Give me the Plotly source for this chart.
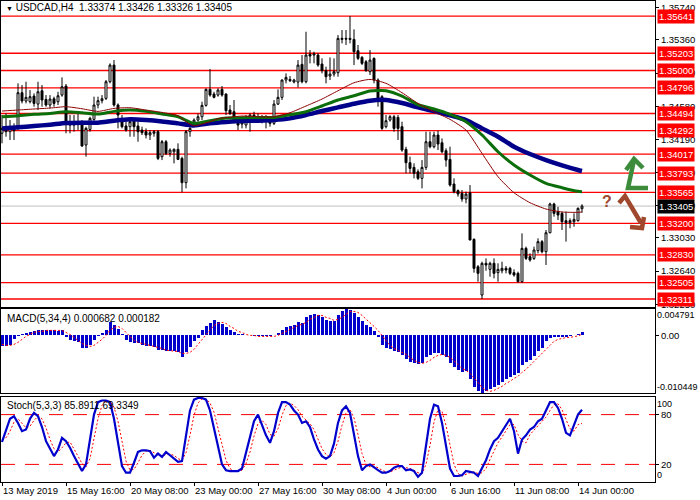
import plotly.graph_objects as go

# ---------------- data ----------------
bars = list(range(146))
tick_pos = [0, 16, 32, 48, 64, 80, 96, 112, 128, 144]
tick_labels = ["13 May 2019", "15 May 16:00", "20 May 08:00", "23 May 00:00", "27 May 16:00",
               "30 May 08:00", "4 Jun 00:00", "6 Jun 16:00", "11 Jun 08:00", "14 Jun 00:00"]

opens = [1.34261,1.34319,1.34280,1.34331,1.34319,1.34739,1.34641,1.34633,1.34699,1.34605,
         1.34762,1.34660,1.34594,1.34668,1.34633,1.34711,1.34817,1.34398,1.34358,1.34398,
         1.34378,1.34123,1.34307,1.34425,1.34594,1.34645,1.34672,1.34868,1.35064,1.34594,
         1.34417,1.34347,1.34339,1.34409,1.34347,1.34299,1.34280,1.34241,1.34261,1.34280,
         1.33986,1.34162,1.34025,1.34044,1.34072,1.33966,1.33680,1.34280,1.34370,1.34417,
         1.34456,1.34590,1.34778,1.34723,1.34711,1.34778,1.34723,1.34535,1.34515,1.34437,
         1.34370,1.34358,1.34417,1.34476,1.34448,1.34425,1.34437,1.34417,1.34378,1.34605,
         1.34684,1.34888,1.34895,1.34864,1.34864,1.35072,1.34868,1.35190,1.35182,1.35182,
         1.35076,1.34998,1.34935,1.34958,1.34974,1.35366,1.35378,1.35378,1.35366,1.35233,
         1.35154,1.35103,1.34986,1.35143,1.34888,1.34692,1.34339,1.34417,1.34456,1.34448,
         1.34339,1.34072,1.33915,1.33860,1.33809,1.33731,1.33860,1.34162,1.34103,1.34241,
         1.34150,1.34056,1.33954,1.33664,1.33586,1.33554,1.33488,1.33562,1.33013,1.32691,
         1.32358,1.32731,1.32660,1.32731,1.32621,1.32644,1.32672,1.32672,1.32621,1.32613,
         1.32515,1.32907,1.32809,1.32789,1.32880,1.32986,1.32868,1.33091,1.33429,1.33339,
         1.33319,1.33233,1.33209,1.33221,1.33233,1.33374]
highs = [1.34476,1.34495,1.34417,1.34378,1.34849,1.34829,1.34868,1.34770,1.34731,1.34868,
         1.34829,1.34711,1.34711,1.34692,1.34750,1.34919,1.34841,1.34476,1.34476,1.34495,
         1.34417,1.34339,1.34456,1.34692,1.34692,1.34711,1.34888,1.35084,1.35123,1.34613,
         1.34476,1.34417,1.34437,1.34437,1.34398,1.34339,1.34319,1.34299,1.34299,1.34299,
         1.34182,1.34182,1.34084,1.34084,1.34143,1.33986,1.34299,1.34339,1.34437,1.34495,
         1.34633,1.34790,1.35017,1.34750,1.34790,1.34817,1.34731,1.34594,1.34653,1.34456,
         1.34417,1.34476,1.34495,1.34515,1.34495,1.34476,1.34476,1.34437,1.34653,1.34778,
         1.34895,1.34966,1.34935,1.34903,1.35123,1.35182,1.35456,1.35241,1.35221,1.35202,
         1.35143,1.35045,1.35154,1.35143,1.35417,1.35476,1.35476,1.35641,1.35484,1.35300,
         1.35170,1.35123,1.35241,1.35154,1.34907,1.34711,1.34476,1.34476,1.34476,1.34476,
         1.34398,1.34103,1.33986,1.33907,1.33837,1.33946,1.34280,1.34280,1.34280,1.34292,
         1.34201,1.34084,1.34103,1.33731,1.33601,1.33593,1.33574,1.33652,1.33025,1.32711,
         1.32750,1.32789,1.32750,1.32789,1.32731,1.32750,1.32699,1.32691,1.32660,1.32633,
         1.33084,1.32927,1.32848,1.32927,1.33025,1.33005,1.33123,1.33444,1.33444,1.33397,
         1.33339,1.33339,1.33260,1.33319,1.33389,1.33426]
lows = [1.34143,1.34221,1.34182,1.34182,1.34299,1.34613,1.34613,1.34613,1.34574,1.34535,
        1.34574,1.34574,1.34554,1.34574,1.34594,1.34692,1.34261,1.34261,1.34280,1.34299,
        1.34103,1.33986,1.34280,1.34409,1.34554,1.34613,1.34653,1.34849,1.34574,1.34319,
        1.34319,1.34280,1.34221,1.34221,1.34162,1.34241,1.34201,1.34182,1.34221,1.33946,
        1.33946,1.34005,1.33986,1.33907,1.33946,1.33566,1.33613,1.34221,1.34358,1.34398,
        1.34417,1.34574,1.34692,1.34672,1.34692,1.34692,1.34476,1.34476,1.34378,1.34299,
        1.34319,1.34319,1.34280,1.34398,1.34417,1.34378,1.34319,1.34339,1.34358,1.34594,
        1.34653,1.34849,1.34864,1.34849,1.34801,1.34849,1.34849,1.35084,1.35084,1.35045,
        1.34966,1.34849,1.34888,1.34927,1.34927,1.35319,1.35300,1.35319,1.35064,1.35123,
        1.35064,1.34986,1.34947,1.34849,1.34574,1.34299,1.34319,1.34398,1.34280,1.34182,
        1.34044,1.33790,1.33790,1.33731,1.33711,1.33613,1.33829,1.34084,1.34084,1.34064,
        1.34025,1.33868,1.33633,1.33554,1.33515,1.33456,1.33437,1.33005,1.32621,1.32515,
        1.32311,1.32644,1.32574,1.32554,1.32515,1.32613,1.32613,1.32593,1.32574,1.32505,
        1.32503,1.32770,1.32750,1.32770,1.32848,1.32848,1.32711,1.33084,1.33280,1.33241,
        1.33123,1.32986,1.33143,1.33162,1.33221,1.33326]
closes = [1.34319,1.34280,1.34331,1.34292,1.34739,1.34641,1.34684,1.34692,1.34613,1.34750,
          1.34653,1.34594,1.34664,1.34613,1.34703,1.34809,1.34398,1.34358,1.34398,1.34370,
          1.34111,1.34319,1.34437,1.34594,1.34645,1.34668,1.34868,1.35064,1.34594,1.34476,
          1.34339,1.34299,1.34398,1.34339,1.34280,1.34268,1.34241,1.34268,1.34280,1.33966,
          1.34162,1.34025,1.34064,1.34072,1.33954,1.33680,1.34280,1.34319,1.34417,1.34456,
          1.34590,1.34778,1.34711,1.34684,1.34770,1.34711,1.34527,1.34495,1.34417,1.34358,
          1.34386,1.34417,1.34476,1.34437,1.34437,1.34456,1.34417,1.34378,1.34605,1.34684,
          1.34888,1.34919,1.34880,1.34888,1.35064,1.34868,1.35182,1.35170,1.35194,1.35064,
          1.34998,1.34927,1.34958,1.34986,1.35378,1.35378,1.35370,1.35366,1.35221,1.35143,
          1.35084,1.34998,1.35123,1.34888,1.34672,1.34319,1.34409,1.34456,1.34319,1.34319,
          1.34064,1.33915,1.33848,1.33790,1.33731,1.33860,1.34162,1.34103,1.34241,1.34135,
          1.34044,1.33946,1.33652,1.33574,1.33546,1.33488,1.33546,1.33005,1.32672,1.32613,
          1.32731,1.32711,1.32731,1.32613,1.32660,1.32672,1.32652,1.32613,1.32593,1.32515,
          1.32907,1.32789,1.32770,1.32888,1.32986,1.32868,1.33091,1.33429,1.33319,1.33299,
          1.33221,1.33209,1.33233,1.33248,1.33378,1.33405]

ma_red_x = [0,4,8,12,16,20,24,28,32,36,40,44,46,48,50,52,54,56,60,64,68,72,76,80,84,88,92,96,
            100,104,108,112,116,120,124,128,132,136,140,144,145]
ma_red = [1.34523,1.34535,1.34547,1.34558,1.34574,1.34550,1.34519,1.34554,1.34562,1.34535,
          1.34507,1.34468,1.34398,1.34347,1.34370,1.34398,1.34433,1.34445,1.34464,1.34456,
          1.34456,1.34503,1.34582,1.34664,1.34762,1.34856,1.34895,1.34849,1.34739,1.34613,
          1.34515,1.34425,1.34299,1.34025,1.33750,1.33562,1.33444,1.33370,1.33335,1.33331,1.33335]
ma_x = [0,4,8,12,16,20,24,28,32,36,40,44,48,52,56,60,64,68,72,76,80,84,88,92,96,
        100,104,108,112,116,120,124,128,132,136,140,144,145]
ma_green = [1.34456,1.34468,1.34484,1.34495,1.34515,1.34503,1.34488,1.34519,1.34535,1.34519,
            1.34488,1.34456,1.34378,1.34409,1.34441,1.34445,1.34448,1.34448,1.34480,1.34515,
            1.34582,1.34653,1.34703,1.34758,1.34762,1.34699,1.34597,1.34547,1.34484,1.34398,
            1.34241,1.34044,1.33888,1.33770,1.33672,1.33621,1.33578,1.33574]
ma_blue = [1.34319,1.34331,1.34347,1.34362,1.34382,1.34386,1.34386,1.34409,1.34425,1.34417,
           1.34401,1.34378,1.34354,1.34378,1.34394,1.34405,1.34409,1.34417,1.34437,1.34476,
           1.34523,1.34566,1.34609,1.34645,1.34653,1.34617,1.34566,1.34523,1.34472,1.34417,
           1.34319,1.34221,1.34103,1.34017,1.33946,1.33884,1.33829,1.33817]

levels = [1.35641,1.35203,1.35000,1.34796,1.34494,1.34292,1.34017,1.33793,1.33565,
          1.33200,1.32830,1.32505,1.32311]
last_price = 1.33405
price_ticks = [1.35740,1.35360,1.34970,1.34580,1.34190,1.33800,1.33410,1.33030,1.32640,1.32250]

macd = [-0.00200,-0.00200,-0.00181,-0.00073,-0.00018,0.00018,0.00036,0.00054,0.00073,0.00091,
        0.00091,0.00091,0.00091,0.00091,0.00073,0.00091,-0.00036,-0.00091,-0.00109,-0.00127,
        -0.00236,-0.00236,-0.00181,-0.00091,-0.00018,0.00036,0.00091,0.00236,0.00181,0.00109,
        0.00018,-0.00091,-0.00127,-0.00145,-0.00145,-0.00181,-0.00200,-0.00200,-0.00218,-0.00272,
        -0.00272,-0.00290,-0.00290,-0.00290,-0.00308,-0.00399,-0.00308,-0.00218,-0.00109,-0.00054,
        0.00091,0.00163,0.00218,0.00272,0.00236,0.00200,0.00145,0.00091,0.00054,0.00018,
        0.00018,0.00005,0.00003,-0.00018,-0.00018,-0.00018,-0.00018,-0.00018,0.00005,0.00036,
        0.00091,0.00145,0.00163,0.00181,0.00236,0.00218,0.00327,0.00363,0.00381,0.00363,
        0.00327,0.00272,0.00254,0.00254,0.00363,0.00435,0.004791,0.00454,0.00399,0.00327,
        0.00254,0.00181,0.00145,0.00073,-0.00036,-0.00181,-0.00236,-0.00254,-0.00290,-0.00308,
        -0.00363,-0.00435,-0.00490,-0.00508,-0.00526,-0.00508,-0.00399,-0.00363,-0.00327,-0.00327,
        -0.00363,-0.00399,-0.00508,-0.00580,-0.00635,-0.00671,-0.00653,-0.00798,-0.00943,-0.01016,
        -0.010449,-0.01016,-0.00980,-0.00943,-0.00907,-0.00853,-0.00798,-0.00762,-0.00726,-0.00689,
        -0.00544,-0.00490,-0.00454,-0.00381,-0.00290,-0.00236,-0.00109,-0.00054,-0.00036,-0.00036,
        -0.00036,-0.00036,-0.00018,0.00000,0.00023,0.000682]
macd_signal = [-0.00163,-0.00181,-0.00181,-0.00163,-0.00127,-0.00073,-0.00018,0.00018,0.00054,0.00073,
               0.00073,0.00091,0.00091,0.00091,0.00091,0.00091,0.00054,0.00018,-0.00036,-0.00091,
               -0.00145,-0.00181,-0.00200,-0.00181,-0.00127,-0.00073,0.00000,0.00091,0.00145,0.00163,
               0.00127,0.00054,-0.00018,-0.00091,-0.00127,-0.00145,-0.00163,-0.00181,-0.00200,-0.00218,
               -0.00236,-0.00272,-0.00272,-0.00290,-0.00290,-0.00327,-0.00327,-0.00308,-0.00254,-0.00163,
               -0.00073,0.00018,0.00109,0.00181,0.00218,0.00236,0.00218,0.00163,0.00127,0.00073,
               0.00054,0.00018,0.00000,0.00000,-0.00018,-0.00018,-0.00018,-0.00018,-0.00018,0.00000,
               0.00036,0.00073,0.00109,0.00145,0.00181,0.00200,0.00236,0.00290,0.00327,0.00363,
               0.00363,0.00327,0.00308,0.00272,0.00290,0.00327,0.00381,0.00435,0.00435,0.00417,
               0.00363,0.00290,0.00218,0.00163,0.00091,0.00000,-0.00091,-0.00181,-0.00236,-0.00272,
               -0.00308,-0.00345,-0.00399,-0.00454,-0.00490,-0.00508,-0.00490,-0.00454,-0.00399,-0.00363,
               -0.00345,-0.00363,-0.00399,-0.00454,-0.00526,-0.00599,-0.00635,-0.00689,-0.00762,-0.00853,
               -0.00943,-0.00998,-0.01016,-0.00998,-0.00961,-0.00925,-0.00871,-0.00834,-0.00780,-0.00744,
               -0.00671,-0.00617,-0.00544,-0.00472,-0.00399,-0.00345,-0.00254,-0.00181,-0.00109,-0.00072,
               -0.00054,-0.00040,-0.00036,-0.00027,-0.00009,0.000182]

stoch_main = [47,60,75,78,70,60,62,75,82,78,65,48,38,30,38,52,48,40,30,20,
              12,20,50,80,95,97,97,95,75,45,18,10,10,22,35,37,37,36,28,33,
              29,35,31,27,23,24,55,85,98,100,100,98,85,65,42,20,13,12,12,12,
              15,35,55,72,80,68,55,46,60,82,95,95,92,85,80,70,72,65,50,38,
              30,27,30,45,70,85,90,82,55,30,13,18,20,16,13,10,10,12,16,18,
              18,13,14,12,5,10,45,75,92,90,70,40,15,6,6,7,12,11,10,6,
              15,25,38,48,52,60,68,75,60,33,50,55,62,65,72,75,85,95,95,88,
              75,58,55,68,80,85.8911]
stoch_signal = [50,52,60,71,75,69,64,66,73,78,75,64,50,39,35,40,46,47,39,30,
                21,17,27,50,75,91,96,96,89,72,46,24,13,14,22,31,36,37,34,32,
                30,32,32,31,27,25,34,55,79,94,99,99,94,83,64,42,25,15,12,12,
                13,21,35,54,69,73,68,56,54,63,79,91,94,91,86,78,74,69,62,51,
                39,32,29,34,48,67,82,86,76,56,33,20,17,18,16,13,11,11,13,15,
                17,16,15,13,10,9,20,43,71,86,84,67,42,20,9,6,8,10,11,9,
                10,15,26,37,46,53,60,68,68,56,48,46,56,61,66,71,77,85,92,93,
                86,74,63,60,68,69.3349]

# ---------------- geometry helpers (pixel -> paper) ----------------
W, H = 700, 500
ML, MR, MT, MB = 1, 45, 1, 18
PW, PH = W - ML - MR, H - MT - MB


def px(x):
    return (x - ML) / PW


def py(y):
    return (H - MB - y) / PH


FONT = "Liberation Sans, Arial, sans-serif"
FS = 9.5

fig = go.Figure()

# candles
fig.add_trace(go.Candlestick(
    x=bars, open=opens, high=highs, low=lows, close=closes,
    increasing=dict(line=dict(color="black", width=1), fillcolor="white"),
    decreasing=dict(line=dict(color="black", width=1), fillcolor="black"),
    whiskerwidth=0, xaxis="x", yaxis="y", hoverinfo="skip", showlegend=False))

# moving averages
fig.add_trace(go.Scatter(x=ma_x, y=ma_blue, mode="lines", xaxis="x", yaxis="y",
                         line=dict(color="#00008B", width=4.5, shape="spline", smoothing=0.6),
                         showlegend=False, hoverinfo="skip"))
fig.add_trace(go.Scatter(x=ma_x, y=ma_green, mode="lines", xaxis="x", yaxis="y",
                         line=dict(color="#0B6E0B", width=3, shape="spline", smoothing=0.6),
                         showlegend=False, hoverinfo="skip"))
fig.add_trace(go.Scatter(x=ma_red_x, y=ma_red, mode="lines", xaxis="x", yaxis="y",
                         line=dict(color="#8B0000", width=1, shape="spline", smoothing=0.6),
                         showlegend=False, hoverinfo="skip"))

# MACD
fig.add_trace(go.Bar(x=bars, y=macd, width=0.75, marker=dict(color="#0000CD", line=dict(width=0)),
                     xaxis="x2", yaxis="y2", showlegend=False, hoverinfo="skip"))
fig.add_trace(go.Scatter(x=bars, y=macd_signal, mode="lines", xaxis="x2", yaxis="y2",
                         line=dict(color="#FF0000", width=1, dash="2px,2px"),
                         showlegend=False, hoverinfo="skip"))

# Stochastic
fig.add_trace(go.Scatter(x=bars, y=stoch_signal, mode="lines", xaxis="x3", yaxis="y3",
                         line=dict(color="#FF0000", width=1, dash="2px,2px"),
                         showlegend=False, hoverinfo="skip"))
fig.add_trace(go.Scatter(x=bars, y=stoch_main, mode="lines", xaxis="x3", yaxis="y3",
                         line=dict(color="#0000CD", width=2.2),
                         showlegend=False, hoverinfo="skip"))

shapes = []
annotations = []

# level lines + labels
for lv in levels:
    shapes.append(dict(type="line", xref="x domain", yref="y", x0=0, x1=1, y0=lv, y1=lv,
                       line=dict(color="#FF0000", width=1.3), layer="below"))
    annotations.append(dict(xref="paper", yref="y", x=1, y=lv, xanchor="left", yanchor="middle",
                            xshift=2, text=f"{lv:.5f}", showarrow=False, bgcolor="#FF0000",
                            borderpad=1, font=dict(color="white", size=FS, family=FONT)))
shapes.append(dict(type="line", xref="x domain", yref="y", x0=0, x1=1, y0=last_price, y1=last_price,
                   line=dict(color="#C0C0C0", width=1), layer="below"))
annotations.append(dict(xref="paper", yref="y", x=1, y=last_price, xanchor="left", yanchor="middle",
                        xshift=2, text=f"{last_price:.5f}", showarrow=False, bgcolor="black",
                        borderpad=1, font=dict(color="white", size=FS, family=FONT)))

# stochastic levels
for lv in (80, 20):
    shapes.append(dict(type="line", xref="x3 domain", yref="y3", x0=0, x1=1, y0=lv, y1=lv,
                       line=dict(color="#FF0000", width=1, dash="14px,10px"), layer="below"))

# arrows (icons)
green = "#3C8C3C"
brown = "#A0482D"
shapes.append(dict(type="path", xref="paper", yref="paper",
                   path=f"M {px(626)},{py(170)} L {px(634)},{py(159)} L {px(643)},{py(168)}",
                   line=dict(color=green, width=4.5)))
shapes.append(dict(type="path", xref="paper", yref="paper",
                   path=f"M {px(634)},{py(160)} L {px(628)},{py(188)} L {px(648)},{py(188)}",
                   line=dict(color=green, width=4.5)))
shapes.append(dict(type="path", xref="paper", yref="paper",
                   path=f"M {px(619)},{py(203)} L {px(625)},{py(196)} L {px(641)},{py(223)}",
                   line=dict(color=brown, width=4.5)))
shapes.append(dict(type="path", xref="paper", yref="paper",
                   path=f"M {px(630)},{py(227)} L {px(642)},{py(228)} L {px(644)},{py(217)}",
                   line=dict(color=brown, width=4.5)))
annotations.append(dict(xref="paper", yref="paper", x=px(614), y=py(202), text="<b>?</b>",
                        showarrow=False, font=dict(color=brown, size=16, family=FONT)))

# titles
annotations.append(dict(xref="paper", yref="paper", x=px(4), y=py(8), xanchor="left", yanchor="middle",
                        text="<span style='font-size:7px'>▼</span> USDCAD,H4\u00a0 1.33374 1.33426 1.33326 1.33405",
                        showarrow=False, font=dict(color="black", size=10, family=FONT)))
annotations.append(dict(xref="paper", yref="y2 domain", x=px(5), y=1, xanchor="left", yanchor="top",
                        yshift=-2, text="MACD(5,34,4) 0.000682 0.000182",
                        showarrow=False, font=dict(color="black", size=10, family=FONT)))
annotations.append(dict(xref="paper", yref="y3 domain", x=px(5), y=1, xanchor="left", yanchor="top",
                        yshift=-1, text="Stoch(5,3,3) 85.8911 69.3349",
                        showarrow=False, font=dict(color="black", size=10, family=FONT)))

# indicator edge labels
for txt, yr, yv, anc in [("0.004791", "y2", 0.004791, "top"), ("-0.010449", "y2", -0.010449, "bottom"),
                         ("100", "y3", 100, "top"), ("0", "y3", 0, "bottom")]:
    annotations.append(dict(xref="paper", yref=yr, x=1, y=yv, xanchor="left", yanchor=anc,
                            xshift=1, text=txt, showarrow=False, borderpad=0,
                            font=dict(color="black", size=9, family=FONT)))

xr = [-0.25, 163.25]
axis_common = dict(showgrid=False, zeroline=False, showline=True, linecolor="black", linewidth=1,
                   mirror=True, automargin=False)

fig.update_layout(
    width=W, height=H, margin=dict(l=ML, r=MR, t=MT, b=MB, autoexpand=False),
    paper_bgcolor="white", plot_bgcolor="white",
    font=dict(family=FONT, size=FS, color="black"),
    showlegend=False, bargap=0,
    xaxis=dict(domain=[0, 1], range=xr, anchor="y", showticklabels=False, ticks="",
               rangeslider=dict(visible=False), **axis_common),
    yaxis=dict(domain=[py(307), 1], range=[1.32217, 1.35818], side="right", anchor="x",
               tickvals=price_ticks, ticktext=[f"{t:.5f}" for t in price_ticks],
               ticks="outside", ticklen=3, tickcolor="black", **axis_common),
    xaxis2=dict(domain=[0, 1], range=xr, anchor="y2", matches="x", showticklabels=False, ticks="",
                **axis_common),
    yaxis2=dict(domain=[py(393), py(309)], range=[-0.010449, 0.004791], side="right", anchor="x2",
                tickvals=[0], ticktext=["0.00"], ticks="outside", ticklen=3, tickcolor="black",
                **axis_common),
    xaxis3=dict(domain=[0, 1], range=xr, anchor="y3", matches="x",
                tickvals=tick_pos, ticktext=tick_labels, ticks="outside", ticklen=3,
                tickcolor="black", ticklabelposition="outside right", tickangle=0,
                **axis_common),
    yaxis3=dict(domain=[0, py(397)], range=[-1.2, 101.2], side="right", anchor="x3",
                tickvals=[80, 20], ticktext=["80", "20"], ticks="outside", ticklen=3,
                tickcolor="black", **axis_common),
    shapes=shapes, annotations=annotations,
)

fig.write_html("out.html", config={"displayModeBar": False, "staticPlot": True},
               post_script="document.body.style.margin='0';document.body.style.padding='0';")
